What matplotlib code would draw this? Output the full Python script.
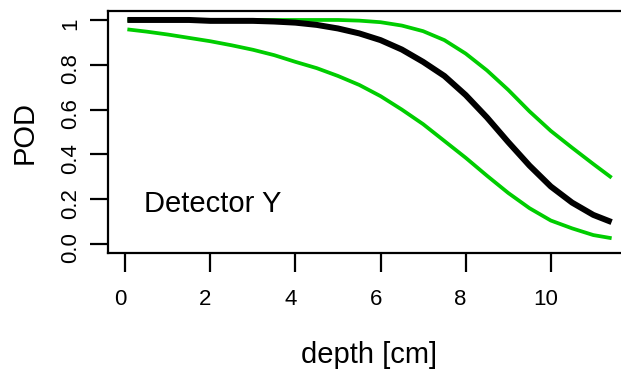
import matplotlib
matplotlib.use("Agg")
import matplotlib.pyplot as plt
import matplotlib.transforms as mtrans
import numpy as np

depth = [0.05, 0.5, 1.0, 1.5, 2.0, 2.5, 3.0, 3.5, 4.0, 4.5, 5.0, 5.5, 6.0, 6.5,
         7.0, 7.5, 8.0, 8.5, 9.0, 9.5, 10.0, 10.5, 11.0, 11.43]
pod = [1.0, 1.0, 1.0, 1.0, 0.996, 0.996, 0.996, 0.993, 0.988, 0.978, 0.962, 0.94,
       0.91, 0.868, 0.813, 0.75, 0.665, 0.565, 0.455, 0.35, 0.257, 0.185, 0.13, 0.098]
upper = [1.0, 1.0, 1.0, 1.0, 1.0, 1.0, 1.0, 1.0, 1.0, 1.0, 1.0, 0.997, 0.99, 0.975,
         0.95, 0.91, 0.85, 0.775, 0.688, 0.592, 0.505, 0.43, 0.357, 0.296]
lower = [0.958, 0.948, 0.935, 0.92, 0.905, 0.887, 0.867, 0.843, 0.813, 0.785, 0.75,
         0.71, 0.66, 0.6, 0.535, 0.46, 0.385, 0.305, 0.228, 0.16, 0.105, 0.07, 0.04, 0.026]
xticks = [0, 2, 4, 6, 8, 10]
yticks = [0.0, 0.2, 0.4, 0.6, 0.8, 1.0]
ytick_labels = ["0.0", "0.2", "0.4", "0.6", "0.8", "1"]

plt.rcParams['font.family'] = ['Liberation Sans', 'DejaVu Sans']

W, H = 621, 369
fig = plt.figure(figsize=(W / 100, H / 100), dpi=100)
left, right, top, bottom = 108, 631, 11, 253
ax = fig.add_axes([left / W, (H - bottom) / H, (right - left) / W, (bottom - top) / H])

green = '#00CD00'
ax.plot(depth, upper, color=green, lw=2.7, solid_capstyle='butt')
ax.plot(depth, lower, color=green, lw=2.7, solid_capstyle='butt')
ax.plot(depth, pod, color='black', lw=4.3, solid_capstyle='butt')

xmin, xmax = min(depth), max(depth)
ext = 0.04 * (xmax - xmin)
ax.set_xlim(xmin - ext, xmax + ext)
ax.set_ylim(-0.04, 1.04)

ax.set_xticks(xticks)
ax.set_xticklabels([str(v) for v in xticks])
ax.set_yticks(yticks)
ax.set_yticklabels(ytick_labels, rotation=90, va='center')

for s in ax.spines.values():
    s.set_linewidth(1.6)

ax.tick_params(axis='x', length=14, width=1.6, labelsize=16, pad=12)
ax.tick_params(axis='y', length=13, width=1.6, labelsize=16, pad=6)

for lab in ax.get_xticklabels():
    lab.set_transform(lab.get_transform() + mtrans.ScaledTranslation(-5 / 100, 0, fig.dpi_scale_trans))
for lab in ax.get_yticklabels():
    lab.set_transform(lab.get_transform() + mtrans.ScaledTranslation(0, -4 / 100, fig.dpi_scale_trans))

ax.set_xlabel("depth [cm]", fontsize=21, labelpad=22)
ax.set_ylabel("POD", fontsize=21, labelpad=16)

ax.text(0.45, 0.142, "Detector Y", fontsize=21, ha='left', va='baseline')

fig.savefig("out.png", dpi=100)
